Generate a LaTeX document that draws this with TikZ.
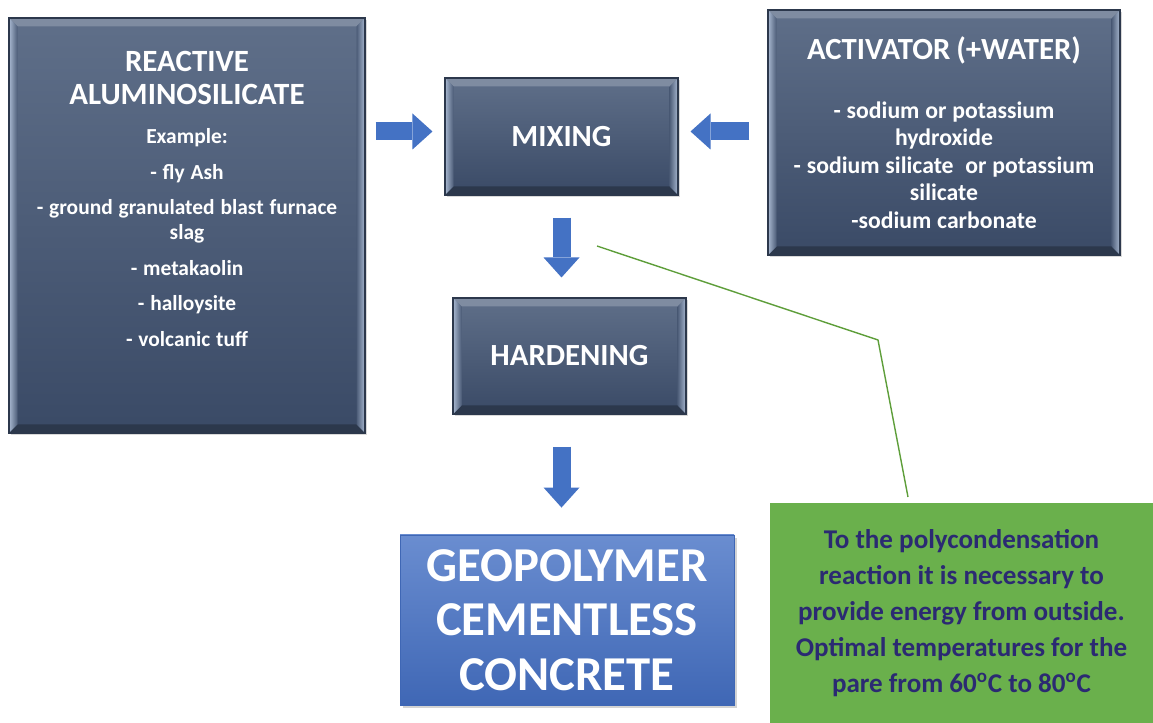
\documentclass[tikz,border=0pt]{standalone}
\usepackage{fontspec}
\setmainfont{Carlito}
\usetikzlibrary{arrows.meta,shadows}

\definecolor{boxtop}{HTML}{5F6F89}
\definecolor{boxmid}{HTML}{4C5C77}
\definecolor{boxbot}{HTML}{3A4A66}
\definecolor{boxedge}{HTML}{2C384C}
\definecolor{bevellight}{HTML}{A8B8D0}
\definecolor{arrowblue}{HTML}{4472C4}
\definecolor{geotop}{HTML}{6A8DD0}
\definecolor{geobot}{HTML}{3F67B5}
\definecolor{notegreen}{HTML}{6AB04C}
\definecolor{notetext}{HTML}{2B2A72}
\definecolor{pointergreen}{HTML}{5E9E3A}

\newcommand\reacthead{\fontsize{17.6}{18.9}\selectfont}
\newcommand\reactitem{\fontsize{12.2}{14.2}\selectfont}
\newcommand\acthead{\fontsize{17.5}{19}\selectfont}
\newcommand\actitem{\fontsize{13.5}{15.6}\selectfont}
\newcommand\stagefont{\fontsize{17.5}{20}\selectfont}
\newcommand\geofont{\fontsize{27.7}{31}\selectfont}
\newcommand\notefont{\fontsize{15.4}{20.4}\selectfont}

\begin{document}
\begin{tikzpicture}[
    darkbox/.style={draw=boxedge, line width=0.6pt, top color=boxtop, bottom color=boxbot,
      drop shadow={opacity=0.3, shadow xshift=0.04cm, shadow yshift=-0.05cm},
      path picture={
        \fill[boxtop!80!white] (path picture bounding box.north west) -- (path picture bounding box.north east)
          -- ++(-0.17,-0.17) -- ([shift={(0.17,-0.17)}]path picture bounding box.north west) -- cycle;
        \fill[boxedge] (path picture bounding box.south west) -- (path picture bounding box.south east)
          -- ++(-0.17,0.17) -- ([shift={(0.17,0.17)}]path picture bounding box.south west) -- cycle;
        \shade[left color=bevellight, right color=boxmid] (path picture bounding box.north west) -- (path picture bounding box.south west)
          -- ++(0.17,0.17) -- ([shift={(0.17,-0.17)}]path picture bounding box.north west) -- cycle;
        \shade[right color=bevellight, left color=boxmid] (path picture bounding box.north east) -- (path picture bounding box.south east)
          -- ++(-0.17,0.17) -- ([shift={(-0.17,-0.17)}]path picture bounding box.north east) -- cycle;
      },
      text=white, font=\bfseries, align=center, inner sep=0pt},
    geobox/.style={draw=geobot, line width=0.5pt, top color=geotop, bottom color=geobot,
      drop shadow={opacity=0.35, shadow xshift=0.05cm, shadow yshift=-0.07cm},
      text=white, font=\geofont\bfseries, align=center, inner sep=0pt},
    notebox/.style={fill=notegreen, text=notetext, font=\notefont\bfseries, align=center, inner sep=0pt},
    flow/.style={draw=arrowblue, line width=0.36cm, -{Triangle[length=0.4cm, width=0.72cm, line width=0pt]}},
    pointer/.style={draw=pointergreen, line width=0.8pt}
  ]
  \useasboundingbox (0,0) rectangle (23.06,14.46);

  \node[darkbox, minimum width=7.12cm, minimum height=8.30cm] (react) at (3.74,9.95) {};
  \node[text=white, font=\bfseries, text width=6.9cm, align=center, inner sep=0pt, anchor=north] (reactlist) at (3.74,13.44)
    {\reacthead REACTIVE\\ALUMINOSILICATE\par
     \vspace{8pt}\reactitem Example:\par
     \vspace{6pt}- fly Ash\par
     \vspace{6pt}- ground granulated blast furnace\\slag\par
     \vspace{6pt}- metakaolin\par
     \vspace{6pt}- halloysite\par
     \vspace{6pt}- volcanic tuff\par};

  \node[darkbox, minimum width=4.66cm, minimum height=2.34cm, font=\stagefont\bfseries] (mixing) at (11.23,11.73) {MIXING};

  \node[darkbox, minimum width=7.04cm, minimum height=4.90cm, text width=6.9cm] (activator) at (18.88,11.81)
    {\acthead ACTIVATOR (+WATER)\par
     \vspace{18pt}\actitem - sodium or potassium\\hydroxide\\- sodium silicate~ or potassium\\silicate\\-sodium carbonate\par};

  \node[darkbox, minimum width=4.66cm, minimum height=2.32cm, font=\stagefont\bfseries] (hardening) at (11.39,7.34) {HARDENING};

  \node[geobox, minimum width=6.68cm, minimum height=3.40cm] (geo) at (11.34,2.06) {GEOPOLYMER\\CEMENTLESS\\CONCRETE};

  \node[notebox, minimum width=7.66cm, minimum height=4.40cm] (note) at (19.23,2.20)
    {To the polycondensation\\reaction it is necessary to\\provide energy from outside.\\Optimal temperatures for the\\pare from 60\textsuperscript{o}C to 80\textsuperscript{o}C};

  \coordinate (tip) at (11.94,9.54);
  \coordinate (bend) at (17.56,7.66);
  \coordinate (foot) at (18.16,4.52);

  \draw[flow, shorten <=0.2cm, shorten >=0.24cm] ([yshift=0.1cm]mixing.west -| react.east) -- ([yshift=0.1cm]mixing.west);
  \draw[flow, shorten <=0.36cm, shorten >=0.24cm] ([yshift=0.1cm]mixing.east -| activator.west) -- ([yshift=0.1cm]mixing.east);
  \draw[flow, shorten <=0.44cm, shorten >=0.4cm] (mixing.south) -- (mixing.south |- hardening.north);
  \draw[flow, shorten <=0.64cm, shorten >=0.54cm] (mixing.south |- hardening.south) -- (mixing.south |- geo.north);

  \draw[pointer] (tip) -- (bend) -- (foot);
\end{tikzpicture}
\end{document}
